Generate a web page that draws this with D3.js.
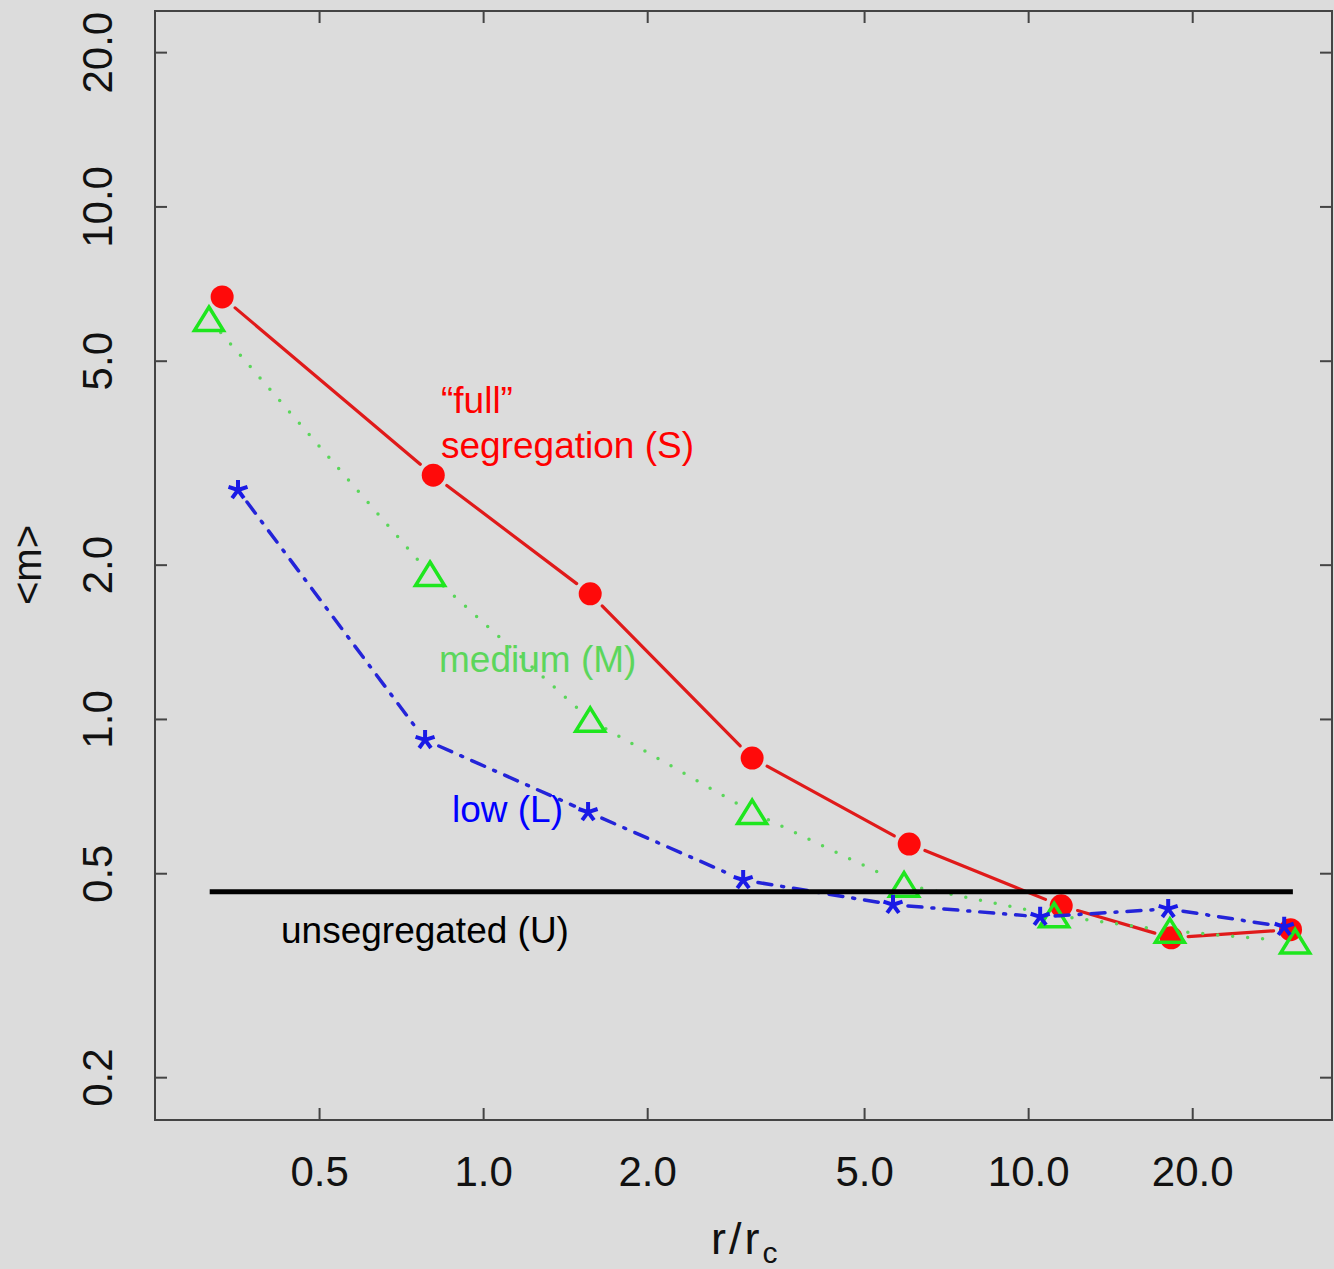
<!DOCTYPE html>
<html>
<head>
<meta charset="utf-8">
<script src="https://cdn.jsdelivr.net/npm/d3@7"></script>
<style>
  body { margin: 0; background: #dcdcdc; }
  svg { display: block; font-family: "Liberation Sans", Arial, sans-serif; }
</style>
</head>
<body>
<div id="chart"></div>
<script>
// data (r/rc vs <m>)
var xTicks = [0.5, 1, 2, 5, 10, 20];
var yTicks = [0.2, 0.5, 1, 2, 5, 10, 20];

var fullX = [0.332, 0.810, 1.572, 3.116, 6.05, 11.5, 18.3, 30.3];
var fullY = [6.66, 2.99, 1.754, 0.839, 0.570, 0.432, 0.374, 0.388];

var mediumX = [0.314, 0.799, 1.572, 3.116, 5.92, 11.16, 18.2, 30.9];
var mediumY = [6.03, 1.918, 0.996, 0.658, 0.475, 0.414, 0.386, 0.368];

var lowX = [0.355, 0.7825, 1.558, 3.0, 5.65, 10.52, 18.07, 29.5];
var lowY = [2.797, 0.910, 0.658, 0.485, 0.434, 0.411, 0.426, 0.393];

var unsegX = [0.315, 30.6];
var unsegY = 0.46;

var xDomain = [0.25, 36.1];
var yDomain = [0.165, 24.06];

var W = 1334, H = 1269;
var padL = 155, padR = 1332, padT = 11, padB = 1120;

var svg = d3.select("#chart").append("svg")
    .attr("width", W)
    .attr("height", H);

svg.append("rect").attr("width", W).attr("height", H).attr("fill", "#dcdcdc");

var x = d3.scaleLog().domain(xDomain).range([padL, padR]);
var y = d3.scaleLog().domain(yDomain).range([padB, padT]);

var fmt = d3.format(".1f");

// axes, ticks pointing inward on all sides
var gB = svg.append("g")
    .attr("transform", "translate(0," + padB + ")")
    .call(d3.axisBottom(x).tickValues(xTicks).tickFormat(fmt).tickSize(-12).tickSizeOuter(0).tickPadding(36));
var gT = svg.append("g")
    .attr("transform", "translate(0," + padT + ")")
    .call(d3.axisTop(x).tickValues(xTicks).tickFormat("").tickSize(-12).tickSizeOuter(0));
var gL = svg.append("g")
    .attr("transform", "translate(" + padL + ",0)")
    .call(d3.axisLeft(y).tickValues(yTicks).tickFormat(fmt).tickSize(-12).tickSizeOuter(0));
var gR = svg.append("g")
    .attr("transform", "translate(" + padR + ",0)")
    .call(d3.axisRight(y).tickValues(yTicks).tickFormat("").tickSize(-12).tickSizeOuter(0));

[gB, gT, gL, gR].forEach(function(g){
    g.select(".domain").remove();
    g.selectAll(".tick line").attr("stroke", "#444").attr("stroke-width", 2);
    g.selectAll("text").attr("fill", "#111").style("font-size", "42px")
        .style("font-family", "'Liberation Sans', Arial, sans-serif");
});

gL.selectAll(".tick text")
    .attr("x", 0).attr("y", 0).attr("dy", 0)
    .attr("text-anchor", "middle")
    .attr("transform", "translate(-43,0) rotate(-90)");

svg.append("rect")
    .attr("x", padL).attr("y", padT)
    .attr("width", padR - padL).attr("height", padB - padT)
    .attr("fill", "none").attr("stroke", "#444").attr("stroke-width", 2);

// lines with gaps around the points (type "b")
function drawSeries(xs, ys, color, width, dash, gap){
    var pts = xs.map(function(v, i){ return [x(v), y(ys[i])]; });
    var segs = [];
    for (var i = 0; i < pts.length - 1; i++){
        var a = pts[i], b = pts[i+1];
        var dx = b[0] - a[0], dy = b[1] - a[1];
        var len = Math.sqrt(dx*dx + dy*dy);
        if (len <= 2*gap) continue;
        var ux = dx/len, uy = dy/len;
        segs.push([a[0] + ux*gap, a[1] + uy*gap, b[0] - ux*gap, b[1] - uy*gap]);
    }
    svg.append("g").selectAll("line")
        .data(segs)
      .enter().append("line")
        .attr("x1", function(d){ return d[0]; })
        .attr("y1", function(d){ return d[1]; })
        .attr("x2", function(d){ return d[2]; })
        .attr("y2", function(d){ return d[3]; })
        .attr("stroke", color)
        .attr("stroke-width", width)
        .attr("stroke-linecap", "round")
        .attr("stroke-dasharray", dash);
    return pts;
}

// red: full segregation
var redPts = drawSeries(fullX, fullY, "#e01a1a", 3.2, null, 17);
svg.append("g").selectAll("circle")
    .data(redPts)
  .enter().append("circle")
    .attr("cx", function(d){ return d[0]; })
    .attr("cy", function(d){ return d[1]; })
    .attr("r", 11.5)
    .attr("fill", "#ff0a0a");

// green: medium
var greenPts = drawSeries(mediumX, mediumY, "#5ad65a", 3.5, "0,15", 18);
svg.append("g").selectAll("path")
    .data(greenPts)
  .enter().append("path")
    .attr("d", "M0,-12L14.5,11.5L-14.5,11.5Z")
    .attr("transform", function(d){ return "translate(" + d[0] + "," + d[1] + ")"; })
    .attr("fill", "none")
    .attr("stroke", "#1ee61e")
    .attr("stroke-width", 3.5)
    .attr("stroke-linejoin", "miter");

// blue: low
var bluePts = drawSeries(lowX, lowY, "#2424d8", 3.5, "14,10,2,10", 15);
var starPath = d3.range(5).map(function(k){
    var ang = -Math.PI/2 + k * 2*Math.PI/5;
    return "M0,0L" + (10*Math.cos(ang)).toFixed(2) + "," + (10*Math.sin(ang)).toFixed(2);
}).join("");
svg.append("g").selectAll("path")
    .data(bluePts)
  .enter().append("path")
    .attr("d", starPath)
    .attr("transform", function(d){ return "translate(" + d[0] + "," + d[1] + ")"; })
    .attr("fill", "none")
    .attr("stroke", "#1a1ae6")
    .attr("stroke-width", 4)
    .attr("stroke-linecap", "butt");

// unsegregated reference line
svg.append("line")
    .attr("x1", x(unsegX[0])).attr("x2", x(unsegX[1]))
    .attr("y1", y(unsegY)).attr("y2", y(unsegY))
    .attr("stroke", "#000").attr("stroke-width", 5);

// annotations
function label(txt, px, py, color){
    svg.append("text")
        .attr("x", px).attr("y", py)
        .attr("fill", color)
        .style("font-size", "37px")
        .text(txt);
}
label("\u201cfull\u201d", 441, 413, "#ff0000");
label("segregation (S)", 441, 458, "#ff0000");
label("medium (M)", 439, 672, "#5cd65c");
label("low (L)", 452, 822, "#0000ff");
label("unsegregated (U)", 281, 943, "#000000");

// axis titles
var xt = svg.append("text")
    .attr("x", 711).attr("y", 1254)
    .attr("fill", "#111")
    .style("font-size", "45px")
    .style("letter-spacing", "3px");
xt.append("tspan").text("r/r");
xt.append("tspan").attr("dy", 9).style("font-size", "30px").text("c");

svg.append("text")
    .attr("transform", "translate(41,565) rotate(-90)")
    .attr("text-anchor", "middle")
    .attr("fill", "#111")
    .style("font-size", "40px")
    .text("<m>");
</script>
</body>
</html>
